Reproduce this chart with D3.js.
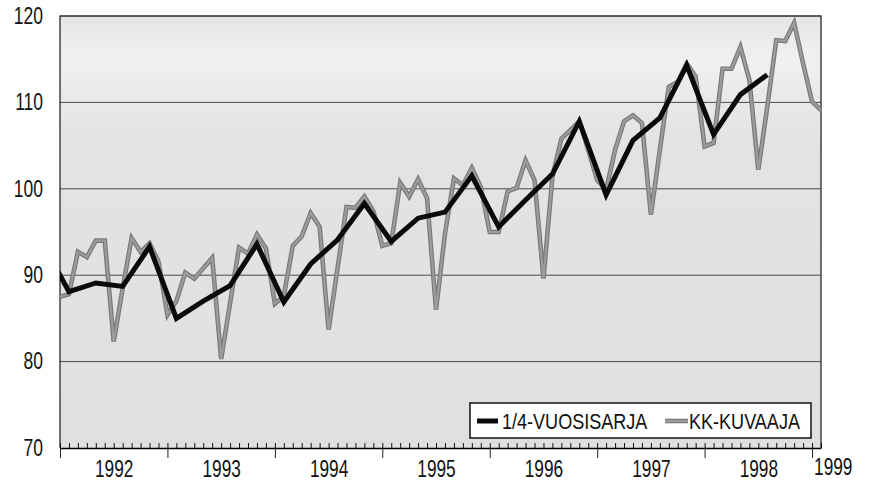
<!DOCTYPE html>
<html><head><meta charset="utf-8">
<script src="https://cdn.jsdelivr.net/npm/d3@7"></script>
<style>
html,body{margin:0;padding:0;background:#fff;}
svg text{font-family:"Liberation Sans",Arial,sans-serif;fill:#111;}
</style></head><body>
<svg id="chart" width="870" height="483"></svg>
<script>
// ---- data ----
const startYear = 1992;
const yearLabels = ["1992","1993","1994","1995","1996","1997","1998","1999"];
const yTickValues = [70, 80, 90, 100, 110, 120];
const gridValues = [80, 90, 100, 110];
const legendLabels = ["1/4-VUOSISARJA", "KK-KUVAAJA"];

// monthly series (KK-KUVAAJA), Jan 1992 .. Feb 1999
const kkKuvaaja = [
  87.5, 87.8, 92.7, 92.1, 94.0, 94.0, 82.3, 88.5, 94.3, 92.7, 93.7, 91.6,
  85.4, 87.0, 90.3, 89.6, 90.8, 92.0, 80.3, 86.8, 93.2, 92.5, 94.7, 93.1,
  86.7, 87.6, 93.4, 94.5, 97.2, 95.6, 83.7, 90.8, 97.9, 97.8, 99.1, 97.4,
  93.4, 93.7, 100.7, 99.1, 101.1, 98.9, 86.0, 94.8, 101.2, 100.4, 102.4, 100.2,
  95.0, 95.0, 99.7, 100.1, 103.3, 101.0, 89.6, 101.4, 105.8, 106.8, 107.8, 104.5,
  101.0, 99.9, 104.5, 107.8, 108.5, 107.6, 97.0, 104.5, 111.8, 112.4, 114.5, 113.0,
  104.9, 105.3, 113.9, 113.9, 116.4, 112.6, 102.2, 109.5, 117.2, 117.1, 119.2, 114.5,
  110.1, 109.1
];
// quarterly series (1/4-VUOSISARJA), Q4 1991 .. Q3 1998, plotted at the middle month of each quarter
const vuosisarja = [
  93.8,
  88.1, 89.1, 88.7, 93.3,
  85.0, 87.0, 88.8, 93.6,
  86.9, 91.3, 94.1, 98.3,
  93.9, 96.6, 97.3, 101.5,
  95.6, 98.7, 101.7, 107.8,
  99.3, 105.6, 108.2, 114.3,
  106.3, 110.9, 113.2
];
const quarterStartMonth = -2; // Nov 1991 relative to Jan 1992

// ---- layout ----
const L = 60, R = 821, T = 16, B = 448;
const svg = d3.select("#chart");
const condense = (sel, f) => sel.each(function () {
  const w = this.getComputedTextLength();
  d3.select(this).attr("textLength", w * f).attr("lengthAdjust", "spacingAndGlyphs");
});

const x = d3.scaleLinear().domain([0, kkKuvaaja.length - 1]).range([L, R]);
const y = d3.scaleLinear().domain([70, 120]).range([B, T]);

const defs = svg.append("defs");
const grad = defs.append("linearGradient").attr("id", "bg")
  .attr("gradientUnits", "userSpaceOnUse").attr("x1", 0).attr("y1", T).attr("x2", 0).attr("y2", B);
[[0, "#e4e4e4"], [0.05, "#ebebeb"], [0.11, "#f1f1f1"], [0.18, "#e9e9e9"], [0.3, "#e3e3e3"], [1, "#e0e0e0"]]
  .forEach(([o, c]) => grad.append("stop").attr("offset", o).attr("stop-color", c));
defs.append("clipPath").attr("id", "plotclip").append("rect")
  .attr("x", L).attr("y", T).attr("width", R - L).attr("height", B - T);

svg.append("rect").attr("x", L).attr("y", T).attr("width", R - L).attr("height", B - T)
  .attr("fill", "url(#bg)");

// gridlines
svg.append("g").selectAll("line").data(gridValues).join("line")
  .attr("x1", L).attr("x2", R).attr("y1", d => y(d)).attr("y2", d => y(d))
  .attr("stroke", "#4a4a4a").attr("stroke-width", 1);

// border (top, left, right)
svg.append("path")
  .attr("d", `M${L},${B}V${T}H${R}V${B}`)
  .attr("fill", "none").attr("stroke", "#2a2a2a").attr("stroke-width", 1.3);

// lines
const plot = svg.append("g").attr("clip-path", "url(#plotclip)");
const lineKK = d3.line().x((d, i) => x(i)).y(d => y(d));
plot.append("path").datum(kkKuvaaja).attr("d", lineKK)
  .attr("fill", "none").attr("stroke", "#7a7a7a").attr("stroke-width", 4.6).attr("stroke-linejoin", "miter");
plot.append("path").datum(kkKuvaaja).attr("d", lineKK)
  .attr("fill", "none").attr("stroke", "#9c9c9c").attr("stroke-width", 2.2).attr("stroke-linejoin", "miter");
const lineQ = d3.line().x((d, i) => x(quarterStartMonth + 3 * i)).y(d => y(d));
plot.append("path").datum(vuosisarja).attr("d", lineQ)
  .attr("fill", "none").attr("stroke", "#0a0a0a").attr("stroke-width", 5).attr("stroke-linejoin", "miter");

// x axis: minor month ticks (upward)
const monthTicks = d3.range(0, kkKuvaaja.length);
svg.append("g").attr("transform", `translate(0,${B})`)
  .call(d3.axisBottom(x).tickValues(monthTicks).tickSizeInner(-5).tickSizeOuter(0).tickFormat(""))
  .call(g => g.select(".domain").remove())
  .call(g => g.selectAll("line").attr("stroke", "#111"));
// major year ticks (downward) + axis line
const yearTicks = yearLabels.map((d, i) => 12 * i);
svg.append("g").attr("transform", `translate(0,${B})`)
  .call(d3.axisBottom(x).tickValues(yearTicks).tickSizeInner(10).tickSizeOuter(0).tickFormat(""))
  .call(g => g.select(".domain").attr("stroke", "#000").attr("stroke-width", 1.6))
  .call(g => g.selectAll("line").attr("stroke", "#222").attr("stroke-width", 1));
// year labels centred in each year
const labelTicks = yearLabels.slice(0, -1).map((d, i) => 12 * i + 6);
svg.append("g").attr("transform", `translate(0,${B})`)
  .call(d3.axisBottom(x).tickValues(labelTicks).tickSize(0).tickPadding(13)
    .tickFormat((d, i) => yearLabels[i]))
  .call(g => g.select(".domain").remove())
  .call(g => g.selectAll("text").attr("font-size", 23).attr("fill", "#111")
    .style("font-family", '"Liberation Sans",Arial,sans-serif').call(condense, 0.75));
svg.append("text").attr("x", x(12 * (yearLabels.length - 1)) + 2).attr("y", 475)
  .attr("font-size", 23).attr("text-anchor", "start").text(yearLabels[yearLabels.length - 1])
  .call(condense, 0.75);

// y axis labels
svg.append("g").attr("transform", `translate(${L},0)`)
  .call(d3.axisLeft(y).tickValues(yTickValues).tickSize(0).tickPadding(17))
  .call(g => g.select(".domain").remove())
  .call(g => g.selectAll("text").attr("font-size", 23).attr("fill", "#111")
    .style("font-family", '"Liberation Sans",Arial,sans-serif').call(condense, 0.76));

// legend
const lg = svg.append("g");
lg.append("rect").attr("x", 470).attr("y", 403).attr("width", 341).attr("height", 35)
  .attr("fill", "#fff").attr("stroke", "#111").attr("stroke-width", 1.5);
lg.append("line").attr("x1", 477).attr("x2", 498).attr("y1", 421).attr("y2", 421)
  .attr("stroke", "#0a0a0a").attr("stroke-width", 5);
lg.append("text").attr("x", 502).attr("y", 429).attr("font-size", 22).text(legendLabels[0]).call(condense, 0.82);
lg.append("line").attr("x1", 665).attr("x2", 688).attr("y1", 421).attr("y2", 421)
  .attr("stroke", "#7a7a7a").attr("stroke-width", 4.6);
lg.append("line").attr("x1", 665).attr("x2", 688).attr("y1", 421).attr("y2", 421)
  .attr("stroke", "#9c9c9c").attr("stroke-width", 2.2);
lg.append("text").attr("x", 689).attr("y", 429).attr("font-size", 22).text(legendLabels[1]).call(condense, 0.82);
</script>
</body></html>
